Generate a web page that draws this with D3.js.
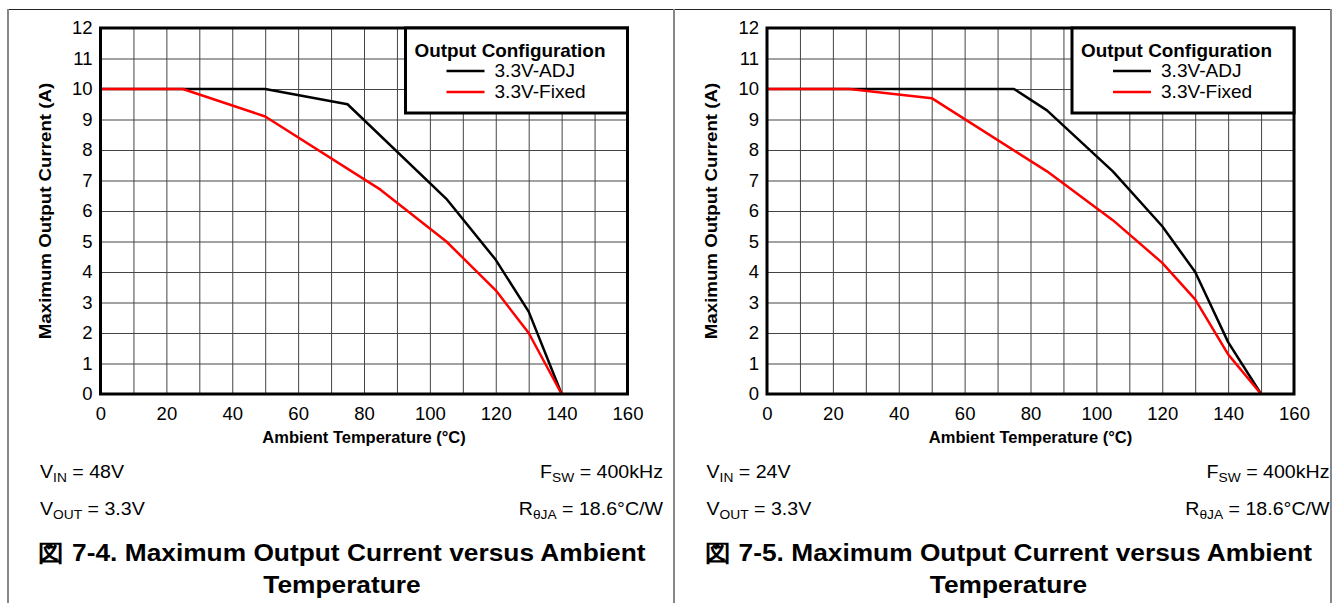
<!DOCTYPE html>
<html>
<head>
<meta charset="utf-8">
<title>Maximum Output Current versus Ambient Temperature</title>
<script src="https://d3js.org/d3.v7.min.js"></script>
<style>
    body { margin: 0; background: #fff; }
    text { font-family: Arial, "Liberation Sans", sans-serif; fill: #000; }
</style>
</head>
<body>
<div id="chart"></div>
<script>
// data
let seriesNames = ["3.3V-ADJ", "3.3V-Fixed"];
let seriesColors = ["#000000", "#ff0000"];

let temp48Adj = [0, 25, 50, 75, 105, 120, 130, 140];
let curr48Adj = [10, 10, 10, 9.5, 6.4, 4.4, 2.7, 0];
let temp48Fixed = [0, 25, 50, 85, 105, 120, 130, 140];
let curr48Fixed = [10, 10, 9.1, 6.7, 5.0, 3.4, 2.0, 0];

let temp24Adj = [0, 25, 50, 75, 85, 105, 120, 130, 140, 150];
let curr24Adj = [10, 10, 10, 10, 9.3, 7.3, 5.5, 4.0, 1.7, 0];
let temp24Fixed = [0, 25, 50, 85, 105, 120, 130, 140, 150];
let curr24Fixed = [10, 10, 9.7, 7.3, 5.7, 4.3, 3.1, 1.3, 0];

let xTicks = [0, 20, 40, 60, 80, 100, 120, 140, 160];
let yTicks = [0, 1, 2, 3, 4, 5, 6, 7, 8, 9, 10, 11, 12];

let W = 1338, H = 603;
let svg = d3.select("#chart").append("svg")
    .attr("width", W).attr("height", H);

// page frame
svg.append("line").attr("x1", 8).attr("x2", 1331).attr("y1", 9.5).attr("y2", 9.5)
    .attr("stroke", "#222").attr("stroke-width", 1);
[8, 674, 1331].forEach(function (x) {
    svg.append("line").attr("x1", x).attr("x2", x).attr("y1", 9).attr("y2", H)
        .attr("stroke", "#888").attr("stroke-width", 2);
});

// text with a slight horizontal stretch like the source
function label(g, x, y, str, size, weight, anchor, sx) {
    return g.append("text")
        .attr("transform", "translate(" + x + "," + y + ") scale(" + (sx || 1.1) + ",1)")
        .attr("font-size", size + "px")
        .attr("font-weight", weight || "normal")
        .attr("text-anchor", anchor || "start")
        .text(str);
}

function sub(g, x, y, main, subs, rest, anchor) {
    let t = g.append("text")
        .attr("transform", "translate(" + x + "," + y + ") scale(1.06,1)")
        .attr("font-size", "18.5px")
        .attr("text-anchor", anchor || "start");
    t.append("tspan").text(main);
    t.append("tspan").attr("font-size", "13px").attr("dy", 4).text(subs);
    t.append("tspan").attr("dy", -4).text(rest);
}

function panel(ox, series, vin, fig) {
    let left = ox + 100.5, top = 28, w = 527, h = 366;
    let g = svg.append("g").attr("transform", "translate(" + left + "," + top + ")");

    let x = d3.scaleLinear().domain([0, 160]).range([0, w]);
    let y = d3.scaleLinear().domain([0, 12]).range([h, 0]);

    // grid
    g.append("g").attr("transform", "translate(0," + h + ")")
        .call(d3.axisBottom(x).tickValues(d3.range(0, 161, 10)).tickSize(-h).tickFormat(""))
        .call(function (a) {
            a.select(".domain").remove();
            a.selectAll("line").attr("stroke", "#444").attr("stroke-width", 1);
        });
    g.append("g")
        .call(d3.axisLeft(y).tickValues(yTicks).tickSize(-w).tickFormat(""))
        .call(function (a) {
            a.select(".domain").remove();
            a.selectAll("line").attr("stroke", "#444").attr("stroke-width", 1);
        });

    // tick labels
    g.append("g").attr("transform", "translate(0," + h + ")")
        .call(d3.axisBottom(x).tickValues(xTicks).tickSize(0).tickPadding(13))
        .call(function (a) {
            a.select(".domain").remove();
            a.selectAll("text").attr("font-size", "18.5px").attr("font-family", null);
        });
    g.append("g")
        .call(d3.axisLeft(y).tickValues(yTicks).tickSize(0).tickPadding(8))
        .call(function (a) {
            a.select(".domain").remove();
            a.selectAll("text").attr("font-size", "18.5px").attr("font-family", null);
        });

    // curves
    let line = d3.line().x(function (d) { return x(d[0]); }).y(function (d) { return y(d[1]); });
    series.forEach(function (s, i) {
        g.append("path")
            .datum(d3.zip(s[0], s[1]))
            .attr("d", line)
            .attr("fill", "none")
            .attr("stroke", seriesColors[i])
            .attr("stroke-width", 2.5)
            .attr("stroke-linejoin", "round");
    });

    // frame
    g.append("rect").attr("width", w).attr("height", h)
        .attr("fill", "none").attr("stroke", "#000").attr("stroke-width", 3);

    // legend
    let lg = g.append("g").attr("transform", "translate(" + (w - 222) + ",0)");
    lg.append("rect").attr("width", 222).attr("height", 85)
        .attr("fill", "#fff").attr("stroke", "#000").attr("stroke-width", 3);
    label(lg, 9, 29, "Output Configuration", 17.5, "bold", "start", 1.08);
    seriesNames.forEach(function (name, i) {
        let ly = 43 + i * 21;
        lg.append("line").attr("x1", 41).attr("x2", 79).attr("y1", ly).attr("y2", ly)
            .attr("stroke", seriesColors[i]).attr("stroke-width", 2.5);
        label(lg, 89, ly + 6, name, 18, "normal", "start", 1.06);
    });

    // axis titles
    label(g, w / 2, h + 49, "Ambient Temperature (°C)", 16.5, "bold", "middle", 1.0);
    g.append("text")
        .attr("transform", "translate(-50," + (h / 2) + ") rotate(-90) scale(1.1,1)")
        .attr("font-size", "17px").attr("font-weight", "bold").attr("text-anchor", "middle")
        .text("Maximum Output Current (A)");

    // operating conditions
    sub(svg, ox + 40, 478, "V", "IN", " = " + vin);
    sub(svg, ox + 40, 515, "V", "OUT", " = 3.3V");
    sub(svg, ox + 663, 478, "F", "SW", " = 400kHz", "end");
    sub(svg, ox + 663, 515, "R", "θJA", " = 18.6°C/W", "end");

    // caption
    label(svg, ox + 342, 561, "図 " + fig + ". Maximum Output Current versus Ambient", 23.5, "bold", "middle", 1.12);
    label(svg, ox + 342, 593, "Temperature", 23.5, "bold", "middle", 1.12);
}

panel(0, [[temp48Adj, curr48Adj], [temp48Fixed, curr48Fixed]], "48V", "7-4");
panel(666.5, [[temp24Adj, curr24Adj], [temp24Fixed, curr24Fixed]], "24V", "7-5");
</script>
</body>
</html>
